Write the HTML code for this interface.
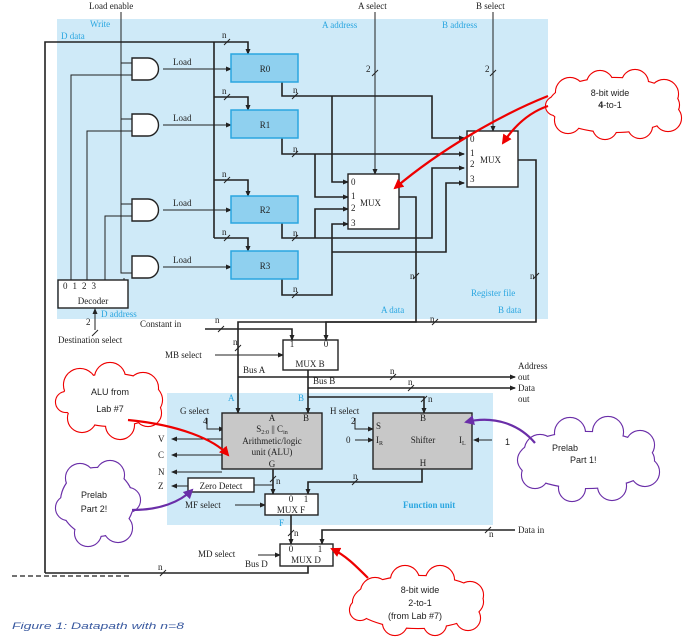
<!DOCTYPE html>
<html><head><meta charset="utf-8"><style>
html,body{margin:0;padding:0;background:#fff;}
svg{display:block;}
text{font-family:"Liberation Serif",serif;font-size:9px;fill:#222;}
.b{fill:#2aa6e0;}
.s{font-family:"Liberation Sans",sans-serif;}
</style></head><body>
<svg width="687" height="637" viewBox="0 0 687 637" xmlns="http://www.w3.org/2000/svg">
<defs>
<marker id="a" markerWidth="6" markerHeight="6" refX="5" refY="3" orient="auto" markerUnits="userSpaceOnUse"><path d="M0,0.5 L6,3 L0,5.5z" fill="#222"/></marker>
<marker id="r" markerWidth="10" markerHeight="10" refX="8" refY="5" orient="auto" markerUnits="userSpaceOnUse"><path d="M0,0 L10,5 L0,10z" fill="#e00"/></marker>
<marker id="p" markerWidth="10" markerHeight="10" refX="8" refY="5" orient="auto" markerUnits="userSpaceOnUse"><path d="M0,0 L10,5 L0,10z" fill="#6a2ea8"/></marker>
</defs>
<rect x="57" y="19" width="491" height="300" fill="#cfeaf8"/>
<rect x="167" y="393" width="326" height="132" fill="#cfeaf8"/>

<g stroke="#222" stroke-width="1.6" fill="none">
<polyline points="45,573 45,42 248,42 248,54" marker-end="url(#a)"/>
<polyline points="214,42 214,238"/>
<polyline points="214,97 248,97 248,110" marker-end="url(#a)"/>
<polyline points="214,180 248,180 248,196" marker-end="url(#a)"/>
<polyline points="214,238 248,238 248,251" marker-end="url(#a)"/>
<polyline points="45,573 308,573 308,566"/>
<polyline stroke-width="1" points="121,12 121,273 132,273"/>
<line stroke-width="1" x1="121" y1="63" x2="132" y2="63"/>
<line stroke-width="1" x1="121" y1="119" x2="132" y2="119"/>
<line stroke-width="1" x1="121" y1="204" x2="132" y2="204"/>
<polyline stroke-width="1" points="71,280 71,75 132,75"/>
<polyline stroke-width="1" points="87,280 87,131 132,131"/>
<polyline stroke-width="1" points="105,280 105,216 132,216"/>
<polyline stroke-width="1" points="124,280 124,278"/>
<line stroke-width="1" x1="163" y1="69" x2="231" y2="69" marker-end="url(#a)"/>
<line stroke-width="1" x1="163" y1="125" x2="231" y2="125" marker-end="url(#a)"/>
<line stroke-width="1" x1="163" y1="210" x2="231" y2="210" marker-end="url(#a)"/>
<line stroke-width="1" x1="163" y1="267" x2="231" y2="267" marker-end="url(#a)"/>
<polyline points="282,82 282,96 432,96 432,138 464,138" marker-end="url(#a)"/>
<polyline points="332,96 332,182 348,182" marker-end="url(#a)"/>
<polyline points="282,138 282,154 464,154" marker-end="url(#a)"/>
<polyline points="315,154 315,197 348,197" marker-end="url(#a)"/>
<polyline points="282,223 282,238 432,238 432,168 464,168" marker-end="url(#a)"/>
<polyline points="315,238 315,209 348,209" marker-end="url(#a)"/>
<polyline points="282,279 282,295 332,295 332,224 348,224" marker-end="url(#a)"/>
<polyline points="332,252 446,252 446,183 464,183" marker-end="url(#a)"/>
<line stroke-width="1" x1="375" y1="12" x2="375" y2="174" marker-end="url(#a)"/>
<line stroke-width="1" x1="493" y1="12" x2="493" y2="131" marker-end="url(#a)"/>
<polyline points="399,197 416,197 416,322 238,322 238,413" marker-end="url(#a)"/>
<polyline points="518,160 536,160 536,322 326,322 326,340" marker-end="url(#a)"/>
<polyline points="205,329 292,329 292,340" marker-end="url(#a)"/>
<line stroke-width="1" x1="215" y1="355" x2="283" y2="355" marker-end="url(#a)"/>
<line x1="238" y1="377" x2="515" y2="377" marker-end="url(#a)"/>
<polyline points="308,370 308,413" marker-end="url(#a)"/>
<line x1="308" y1="388" x2="515" y2="388" marker-end="url(#a)"/>
<polyline points="308,397 424,397 424,413" marker-end="url(#a)"/>
<line stroke-width="1" x1="95" y1="330" x2="95" y2="309" marker-end="url(#a)"/>
<polyline stroke-width="1" points="207,418 207,429 224,429" marker-end="url(#a)"/>
<polyline stroke-width="1" points="355,418 355,429 373,429" marker-end="url(#a)"/>
<line stroke-width="1" x1="224" y1="439" x2="172" y2="439" marker-end="url(#a)"/>
<line stroke-width="1" x1="224" y1="455" x2="172" y2="455" marker-end="url(#a)"/>
<line stroke-width="1" x1="222" y1="472" x2="172" y2="472" marker-end="url(#a)"/>
<line stroke-width="1" x1="188" y1="486" x2="172" y2="486" marker-end="url(#a)"/>
<line stroke-width="1" x1="355" y1="440" x2="373" y2="440" marker-end="url(#a)"/>
<line stroke-width="1" x1="492" y1="440" x2="474" y2="440" marker-end="url(#a)"/>
<polyline points="273,469 273,494" marker-end="url(#a)"/>
<line stroke-width="1" x1="273" y1="485" x2="254" y2="485"/>
<polyline points="422,469 422,482 308,482 308,494" marker-end="url(#a)"/>
<line stroke-width="1" x1="235" y1="505" x2="265" y2="505" marker-end="url(#a)"/>
<polyline points="291,515 291,544" marker-end="url(#a)"/>
<polyline points="515,530 322,530 322,544" marker-end="url(#a)"/>
<line stroke-width="1" x1="258" y1="555" x2="280" y2="555" marker-end="url(#a)"/>
</g>
<g stroke="#222" stroke-width="1">
<line x1="224" y1="45" x2="230" y2="39"/><line x1="224" y1="100" x2="230" y2="94"/><line x1="224" y1="183" x2="230" y2="177"/><line x1="224" y1="241" x2="230" y2="235"/>
<line x1="292" y1="99" x2="298" y2="93"/><line x1="292" y1="157" x2="298" y2="151"/><line x1="292" y1="241" x2="298" y2="235"/><line x1="292" y1="298" x2="298" y2="292"/>
<line x1="372" y1="76" x2="378" y2="70"/><line x1="490" y1="76" x2="496" y2="70"/>
<line x1="413" y1="279" x2="419" y2="273"/><line x1="533" y1="279" x2="539" y2="273"/>
<line x1="218" y1="332" x2="224" y2="326"/><line x1="235" y1="351" x2="241" y2="345"/>
<line x1="432" y1="325" x2="438" y2="319"/><line x1="390" y1="380" x2="396" y2="374"/><line x1="408" y1="391" x2="414" y2="385"/>
<line x1="421" y1="402" x2="427" y2="396"/><line x1="270" y1="482" x2="276" y2="476"/><line x1="352" y1="485" x2="358" y2="479"/>
<line x1="288" y1="536" x2="294" y2="530"/><line x1="485" y1="533" x2="491" y2="527"/><line x1="160" y1="576" x2="166" y2="570"/>
<line x1="92" y1="336" x2="98" y2="330"/>
</g>
<g stroke="#222" stroke-width="1.4">
<rect x="231" y="54" width="67" height="28" fill="#8fd0ef" stroke="#2aa6e0" stroke-width="1.5"/>
<rect x="231" y="110" width="67" height="28" fill="#8fd0ef" stroke="#2aa6e0" stroke-width="1.5"/>
<rect x="231" y="196" width="67" height="27" fill="#8fd0ef" stroke="#2aa6e0" stroke-width="1.5"/>
<rect x="231" y="251" width="67" height="28" fill="#8fd0ef" stroke="#2aa6e0" stroke-width="1.5"/>
<rect x="348" y="174" width="51" height="55" fill="#fff"/>
<rect x="467" y="131" width="51" height="56" fill="#fff"/>
<rect x="58" y="280" width="70" height="28" fill="#fff"/>
<rect x="283" y="340" width="55" height="30" fill="#fff"/>
<rect x="222" y="413" width="100" height="56" fill="#c8c8c8"/>
<rect x="373" y="413" width="99" height="56" fill="#c8c8c8"/>
<rect x="188" y="478" width="66" height="14" fill="#fff"/>
<rect x="265" y="494" width="53" height="21" fill="#fff"/>
<rect x="280" y="544" width="53" height="22" fill="#fff"/>
<path d="M132,58 h16 a10.5,11 0 0 1 0,22 h-16z" fill="#fff"/>
<path d="M132,114 h16 a10.5,11 0 0 1 0,22 h-16z" fill="#fff"/>
<path d="M132,199 h16 a10.5,11 0 0 1 0,22 h-16z" fill="#fff"/>
<path d="M132,256 h16 a10.5,11 0 0 1 0,22 h-16z" fill="#fff"/>
</g>
<text x="89" y="9">Load enable</text>
<text x="358" y="9">A select</text><text x="476" y="9">B select</text>
<text x="90" y="27" class="b">Write</text><text x="61" y="39" class="b">D data</text>
<text x="322" y="28" class="b">A address</text><text x="442" y="28" class="b">B address</text>
<g text-anchor="middle">
<text x="265" y="72">R0</text><text x="265" y="128">R1</text><text x="265" y="213">R2</text><text x="265" y="269">R3</text>
<text x="93" y="304">Decoder</text>
<text x="310" y="367">MUX B</text>
<text x="272" y="421">A</text><text x="306" y="421">B</text>
<text x="272" y="432">S<tspan font-size="6" dy="2">2:0</tspan><tspan dy="-2"> || C</tspan><tspan font-size="6" dy="2">in</tspan></text>
<text x="272" y="444">Arithmetic/logic</text><text x="272" y="455">unit (ALU)</text><text x="272" y="467">G</text>
<text x="423" y="421">B</text><text x="423" y="443">Shifter</text><text x="423" y="466">H</text>
<text x="221" y="489">Zero Detect</text>
<text x="291" y="502" font-size="7">0</text><text x="306" y="502" font-size="7">1</text><text x="291" y="513">MUX F</text>
<text x="291" y="552" font-size="7">0</text><text x="320" y="552" font-size="7">1</text><text x="306" y="563">MUX D</text>
<text x="292" y="347" font-size="8">1</text><text x="326" y="347" font-size="8">0</text>
</g>
<text x="173" y="65">Load</text><text x="173" y="121">Load</text><text x="173" y="206">Load</text><text x="173" y="263">Load</text>
<text x="63" y="289" font-size="8" letter-spacing="5">0123</text>
<text x="351" y="185" font-size="8">0</text><text x="351" y="199" font-size="8">1</text><text x="351" y="211" font-size="8">2</text><text x="351" y="226" font-size="8">3</text><text x="360" y="206">MUX</text>
<text x="470" y="142" font-size="8">0</text><text x="470" y="156" font-size="8">1</text><text x="470" y="167" font-size="8">2</text><text x="470" y="182" font-size="8">3</text><text x="480" y="163">MUX</text>
<text x="366" y="72">2</text><text x="485" y="72">2</text>
<text x="222" y="38" font-size="8">n</text><text x="222" y="94" font-size="8">n</text><text x="222" y="177" font-size="8">n</text><text x="222" y="235" font-size="8">n</text>
<text x="293" y="93" font-size="8">n</text><text x="293" y="152" font-size="8">n</text><text x="293" y="236" font-size="8">n</text><text x="293" y="292" font-size="8">n</text>
<text x="410" y="279" font-size="8">n</text><text x="530" y="279" font-size="8">n</text>
<text x="471" y="296" class="b" font-size="8">Register file</text>
<text x="381" y="313" class="b" font-size="8">A data</text><text x="498" y="313" class="b" font-size="8">B data</text>
<text x="101" y="317" class="b" font-size="8">D address</text>
<text x="86" y="325">2</text>
<text x="140" y="327">Constant in</text><text x="215" y="323" font-size="8">n</text>
<text x="58" y="343">Destination select</text>
<text x="165" y="358">MB select</text><text x="233" y="345" font-size="8">n</text>
<text x="430" y="322" font-size="8">n</text>
<text x="243" y="373">Bus A</text><text x="313" y="384">Bus B</text>
<text x="390" y="374" font-size="8">n</text><text x="408" y="385" font-size="8">n</text>
<text x="518" y="369">Address</text><text x="518" y="380">out</text><text x="518" y="391">Data</text><text x="518" y="402">out</text>
<text x="228" y="401" class="b">A</text><text x="298" y="401" class="b">B</text><text x="428" y="402" font-size="8">n</text>
<text x="180" y="414">G select</text><text x="203" y="424" font-size="8">4</text>
<text x="330" y="414">H select</text><text x="351" y="424" font-size="8">2</text>
<text x="376" y="429">S</text><text x="376" y="443">I<tspan font-size="6" dy="2">R</tspan></text><text x="459" y="443">I<tspan font-size="6" dy="2">L</tspan></text>
<text x="346" y="443">0</text>
<text x="505" y="445" class="s" font-size="12">1</text>
<text x="158" y="442">V</text><text x="158" y="458">C</text><text x="158" y="475">N</text><text x="158" y="489">Z</text>
<text x="276" y="484" font-size="8">n</text><text x="353" y="479" font-size="8">n</text>
<text x="185" y="508">MF select</text>
<text x="403" y="508" class="b" font-weight="bold" font-size="8">Function unit</text>
<text x="279" y="526" class="b">F</text><text x="294" y="536" font-size="8">n</text><text x="489" y="537" font-size="8">n</text>
<text x="518" y="533">Data in</text>
<text x="198" y="557">MD select</text><text x="245" y="567">Bus D</text><text x="158" y="570" font-size="8">n</text>
<line x1="12" y1="576" x2="130" y2="576" stroke="#444" stroke-width="1.5" stroke-dasharray="5,3"/>
<text x="12" y="629" class="s" font-style="italic" font-size="14.5" textLength="172" lengthAdjust="spacingAndGlyphs" style="fill:#3a5aa0">Figure 1: Datapath with n=8</text>

<g fill="none" stroke="#e00" stroke-width="2.2">
<ellipse cx="614" cy="105" rx="65" ry="27"/><circle cx="570" cy="92" r="14"/><circle cx="600" cy="84" r="13"/><circle cx="635" cy="83" r="13"/><circle cx="664" cy="94" r="14"/><circle cx="668" cy="118" r="13"/><circle cx="640" cy="126" r="12"/><circle cx="605" cy="127" r="12"/><circle cx="568" cy="120" r="13"/><circle cx="555" cy="106" r="9"/>
</g>
<g fill="#fff">
<ellipse cx="614" cy="105" rx="65" ry="27"/><circle cx="570" cy="92" r="14"/><circle cx="600" cy="84" r="13"/><circle cx="635" cy="83" r="13"/><circle cx="664" cy="94" r="14"/><circle cx="668" cy="118" r="13"/><circle cx="640" cy="126" r="12"/><circle cx="605" cy="127" r="12"/><circle cx="568" cy="120" r="13"/><circle cx="555" cy="106" r="9"/>
</g>
<text x="610" y="96" class="s" font-size="8" text-anchor="middle">8-bit wide</text>
<text x="610" y="108" class="s" font-size="8" text-anchor="middle"><tspan font-weight="bold">4</tspan>-to-1</text>

<g fill="none" stroke="#e00" stroke-width="2.2">
<ellipse cx="112" cy="400" rx="50" ry="26"/><circle cx="80" cy="385" r="16"/><circle cx="110" cy="378" r="15"/><circle cx="143" cy="388" r="15"/><circle cx="148" cy="413" r="13"/><circle cx="120" cy="425" r="14"/><circle cx="82" cy="418" r="14"/><circle cx="66" cy="402" r="10"/>
</g>
<g fill="#fff">
<ellipse cx="112" cy="400" rx="50" ry="26"/><circle cx="80" cy="385" r="16"/><circle cx="110" cy="378" r="15"/><circle cx="143" cy="388" r="15"/><circle cx="148" cy="413" r="13"/><circle cx="120" cy="425" r="14"/><circle cx="82" cy="418" r="14"/><circle cx="66" cy="402" r="10"/>
</g>
<text x="110" y="395" class="s" font-size="8" text-anchor="middle">ALU from</text>
<text x="110" y="412" class="s" font-size="8" text-anchor="middle">Lab #7</text>

<g fill="none" stroke="#6a2ea8" stroke-width="2.2">
<ellipse cx="586" cy="460" rx="68" ry="28"/><circle cx="540" cy="450" r="15"/><circle cx="570" cy="433" r="15"/><circle cx="608" cy="432" r="15"/><circle cx="640" cy="445" r="14"/><circle cx="645" cy="472" r="14"/><circle cx="612" cy="486" r="14"/><circle cx="572" cy="488" r="13"/><circle cx="535" cy="475" r="13"/>
</g>
<g fill="#fff">
<ellipse cx="586" cy="460" rx="68" ry="28"/><circle cx="540" cy="450" r="15"/><circle cx="570" cy="433" r="15"/><circle cx="608" cy="432" r="15"/><circle cx="640" cy="445" r="14"/><circle cx="645" cy="472" r="14"/><circle cx="612" cy="486" r="14"/><circle cx="572" cy="488" r="13"/><circle cx="535" cy="475" r="13"/>
</g>
<text x="552" y="451" class="s" font-size="8">Prelab</text><text x="570" y="463" class="s" font-size="8">Part  1!</text>

<g fill="none" stroke="#6a2ea8" stroke-width="2.2">
<ellipse cx="97" cy="502" rx="36" ry="34"/><circle cx="80" cy="478" r="14"/><circle cx="110" cy="475" r="14"/><circle cx="128" cy="500" r="12"/><circle cx="118" cy="528" r="14"/><circle cx="88" cy="533" r="13"/><circle cx="68" cy="508" r="12"/>
</g>
<g fill="#fff">
<ellipse cx="97" cy="502" rx="36" ry="34"/><circle cx="80" cy="478" r="14"/><circle cx="110" cy="475" r="14"/><circle cx="128" cy="500" r="12"/><circle cx="118" cy="528" r="14"/><circle cx="88" cy="533" r="13"/><circle cx="68" cy="508" r="12"/>
</g>
<text x="94" y="498" class="s" font-size="8" text-anchor="middle">Prelab</text>
<text x="94" y="512" class="s" font-size="8" text-anchor="middle">Part 2!</text>

<g fill="none" stroke="#e00" stroke-width="2.2">
<ellipse cx="418" cy="602" rx="65" ry="26"/><circle cx="375" cy="592" r="14"/><circle cx="405" cy="580" r="14"/><circle cx="440" cy="580" r="14"/><circle cx="470" cy="595" r="13"/><circle cx="468" cy="618" r="12"/><circle cx="435" cy="624" r="11"/><circle cx="395" cy="623" r="12"/><circle cx="360" cy="610" r="10"/>
</g>
<g fill="#fff">
<ellipse cx="418" cy="602" rx="65" ry="26"/><circle cx="375" cy="592" r="14"/><circle cx="405" cy="580" r="14"/><circle cx="440" cy="580" r="14"/><circle cx="470" cy="595" r="13"/><circle cx="468" cy="618" r="12"/><circle cx="435" cy="624" r="11"/><circle cx="395" cy="623" r="12"/><circle cx="360" cy="610" r="10"/>
</g>
<text x="420" y="593" class="s" font-size="8" text-anchor="middle">8-bit wide</text>
<text x="420" y="606" class="s" font-size="8" text-anchor="middle">2-to-1</text>
<text x="415" y="619" class="s" font-size="10" text-anchor="middle">(from Lab #7)</text>

<g fill="none" stroke-width="2.2">
<path d="M548,96 C500,115 440,150 395,188" stroke="#e00" marker-end="url(#r)"/>
<path d="M548,106 C530,112 515,125 503,143" stroke="#e00" marker-end="url(#r)"/>
<path d="M128,420 C180,425 215,440 228,455" stroke="#e00" marker-end="url(#r)"/>
<path d="M368,578 C355,565 345,555 332,549" stroke="#e00" marker-end="url(#r)"/>
<path d="M535,443 C520,425 495,415 466,422" stroke="#6a2ea8" marker-end="url(#p)"/>
<path d="M132,510 C160,510 180,502 192,490" stroke="#6a2ea8" marker-end="url(#p)"/>
</g>
</svg>
</body></html>
